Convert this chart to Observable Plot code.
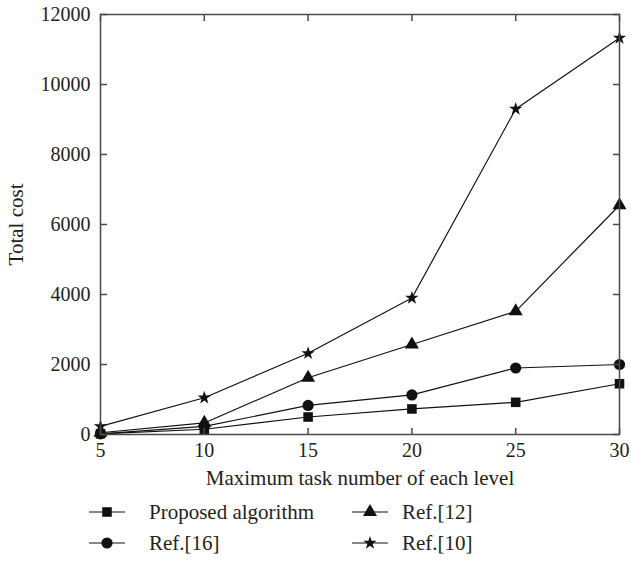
<!DOCTYPE html>
<html><head><meta charset="utf-8">
<script src="https://cdn.jsdelivr.net/npm/d3@7"></script>
<script src="https://cdn.jsdelivr.net/npm/@observablehq/plot@0.6"></script>
<style>
body{margin:0;background:#fff;}
#wrap{position:relative;width:631px;height:563px;font-family:"Liberation Serif",serif;color:#231f20;background:#fff;}
#wrap svg text{font-family:"Liberation Serif",serif;}
.leg{position:absolute;display:flex;align-items:center;font-size:21px;height:28px;white-space:nowrap;}
.leg svg{display:block;}
</style></head><body><div id="wrap"></div>
<script>
const tasks = [5, 10, 15, 20, 25, 30];
const seriesNames = ["Proposed algorithm", "Ref.[16]", "Ref.[12]", "Ref.[10]"];
const proposed = [20, 150, 500, 730, 920, 1450];
const ref16 = [20, 230, 830, 1130, 1900, 2000];
const ref12 = [50, 330, 1620, 2570, 3520, 6550];
const ref10 = [230, 1050, 2320, 3900, 9300, 11330];
const xTicks = [5, 10, 15, 20, 25, 30];
const yTicks = [0, 2000, 4000, 6000, 8000, 10000, 12000];
const symbolNames = ["square", "circle", "triangle", "star"];
const symbolR = [5.4, 5.6, 5.2, 4.2];

const values = [proposed, ref16, ref12, ref10];
const rows = [];
seriesNames.forEach((s, i) => values[i].forEach((v, j) => rows.push({series: s, x: tasks[j], y: v, r: symbolR[i]})));

const ink = "#231f20";
const axisInk = "#4a4a4a";
const serif = "Liberation Serif";

const plot = Plot.plot({
  width: 631, height: 498,
  marginLeft: 100, marginRight: 12, marginTop: 14, marginBottom: 64,
  style: {fontFamily: serif, fontSize: "20px", color: ink, background: "#fff", overflow: "visible"},
  x: {domain: [5, 30]},
  y: {domain: [0, 12000]},
  symbol: {domain: seriesNames, range: symbolNames},
  r: {type: "identity"},
  marks: [
    Plot.line(rows, {x: "x", y: "y", z: "series", stroke: "#111", strokeWidth: 1.2}),
    Plot.dot(rows, {x: "x", y: "y", symbol: "series", r: "r", fill: "#111", stroke: "none"}),
    Plot.frame({stroke: axisInk, strokeWidth: 1.5}),
    Plot.axisX(xTicks, {anchor: "bottom", tickSize: -6, tickPadding: 14, stroke: axisInk, fill: ink, strokeWidth: 1.5,
      fontFamily: serif, fontSize: 20, tickFormat: d3.format("d"), label: null}),
    Plot.axisX({anchor: "bottom", ticks: [], label: "Maximum task number of each level", labelAnchor: "center",
      labelArrow: "none", labelOffset: 50, fontFamily: serif, fontSize: 21, fill: ink}),
    Plot.axisX(xTicks, {anchor: "top", tickSize: -6, stroke: axisInk, strokeWidth: 1.5, tickFormat: () => "", label: null}),
    Plot.axisY(yTicks, {anchor: "left", tickSize: -7, tickPadding: 17, stroke: axisInk, fill: ink, strokeWidth: 1.5,
      fontFamily: serif, fontSize: 20, tickFormat: d3.format("d"), label: null}),
    Plot.axisY({anchor: "left", ticks: [], label: "Total cost", labelAnchor: "center", labelArrow: "none",
      labelOffset: 92, fontFamily: serif, fontSize: 21, fill: ink}),
    Plot.axisY(yTicks, {anchor: "right", tickSize: -7, stroke: axisInk, strokeWidth: 1.5, tickFormat: () => "", label: null})
  ]
});
const wrap = document.getElementById("wrap");
wrap.appendChild(plot);

// legend
const legendOrder = [[0, 89, 498], [2, 352, 498], [1, 89, 529], [3, 352, 529]];
const symMap = {square: d3.symbolSquare, circle: d3.symbolCircle, triangle: d3.symbolTriangle, star: d3.symbolStar};
legendOrder.forEach(([i, left, top]) => {
  const div = document.createElement("div");
  div.className = "leg";
  div.style.left = left + "px";
  div.style.top = top + "px";
  const ns = "http://www.w3.org/2000/svg";
  const svg = document.createElementNS(ns, "svg");
  svg.setAttribute("width", 36); svg.setAttribute("height", 28);
  const line = document.createElementNS(ns, "line");
  line.setAttribute("x1", 0); line.setAttribute("x2", 36); line.setAttribute("y1", 14); line.setAttribute("y2", 14);
  line.setAttribute("stroke", "#111"); line.setAttribute("stroke-width", 1.2);
  svg.appendChild(line);
  const p = document.createElementNS(ns, "path");
  const r = symbolR[i];
  p.setAttribute("d", d3.symbol(symMap[symbolNames[i]], Math.PI * r * r)());
  p.setAttribute("transform", "translate(18,14)");
  p.setAttribute("fill", "#111");
  svg.appendChild(p);
  div.appendChild(svg);
  const span = document.createElement("span");
  span.textContent = seriesNames[i];
  span.style.marginLeft = (i === 0 || i === 1 ? 24 : 14) + "px";
  div.appendChild(span);
  wrap.appendChild(div);
});
</script></body></html>
